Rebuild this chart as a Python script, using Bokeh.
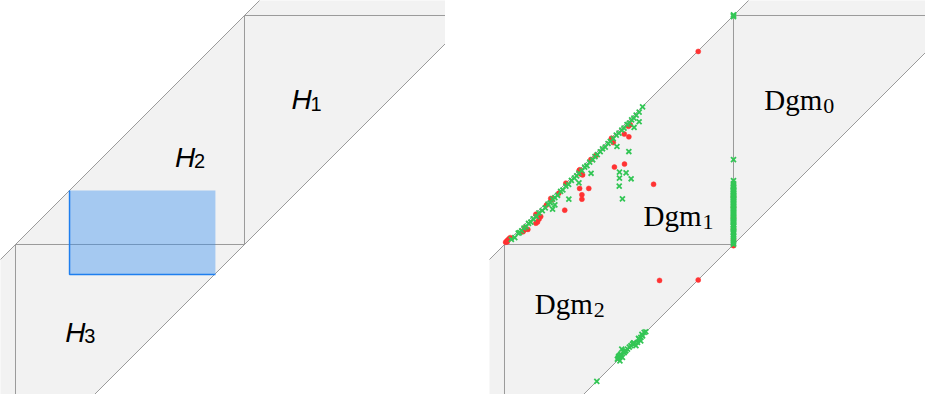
from bokeh.plotting import figure
from bokeh.layouts import row
from bokeh.models import Range1d
from bokeh.core.properties import value
from bokeh.embed import file_html
from bokeh.resources import INLINE

# ---------------- structure of the diagram (data units) ----------------
band_offset = 1.0          # band between y = x - 1 and y = x
diag_span = [-1.0, 3.0]    # extent along which the diagonals are drawn
square_lo = 0.0
square_hi = 1.0

# highlighted rectangle (left panel)
rect_left, rect_right = 0.236, 0.873
rect_bottom, rect_top = -0.131, 0.236

# ---------------- persistence points (right panel) ----------------
red_x = [0.005, 0.010, 0.015, 0.020, 0.012, 0.025,
         0.081, 0.086, 0.102, 0.090, 0.137, 0.144, 0.151, 0.158, 0.137,
         0.183, 0.202, 0.206, 0.237, 0.263, 0.268,
         0.326, 0.328, 0.333, 0.341, 0.328, 0.368, 0.338, 0.338,
         0.377, 0.399, 0.467, 0.475, 0.480, 0.524, 0.523, 0.543, 0.549, 0.541,
         0.651, 0.846,
         0.677, 0.846,
         1.0, 1.0, 1.0, 1.0, 1.0, 1.0]
red_y = [0.010, 0.015, 0.020, 0.025, 0.012, 0.030,
         0.056, 0.063, 0.066, 0.072, 0.093, 0.098, 0.111, 0.122, 0.132,
         0.172, 0.201, 0.195, 0.224, 0.150, 0.268,
         0.322, 0.326, 0.308, 0.304, 0.245, 0.245, 0.217, 0.198,
         0.371, 0.389, 0.464, 0.445, 0.338, 0.351, 0.482, 0.470, 0.523, 0.516,
         0.263, 0.843,
         -0.157, -0.155,
         -0.005, 0.022, 0.068, 0.118, 0.163, 0.209]

green_x = [0.030, 0.045, 0.060, 0.066, 0.075, 0.085, 0.095, 0.105, 0.115, 0.125,
           0.140, 0.150, 0.165, 0.178, 0.190, 0.200, 0.210, 0.220, 0.232, 0.245,
           0.255, 0.268, 0.280, 0.292, 0.305, 0.315, 0.325, 0.338, 0.350, 0.360,
           0.372, 0.385, 0.395, 0.405, 0.418, 0.428, 0.440, 0.452, 0.462, 0.475,
           0.488, 0.500, 0.512, 0.522, 0.535, 0.545, 0.555, 0.565, 0.575, 0.588,
           0.603,
           0.543, 0.502, 0.531, 0.502, 0.553, 0.501, 0.515, 0.281, 0.325, 0.210,
           0.378, 0.491, 0.588, 0.566, 0.220,
           1.0, 1.0, 1.0,
           1.0, 1.0, 1.0, 1.0, 1.0, 1.0, 1.0, 1.0, 1.0, 1.0,
           1.0, 1.0, 1.0, 1.0, 1.0, 1.0, 1.0, 1.0, 1.0, 1.0,
           1.0, 1.0, 1.0, 1.0, 1.0, 1.0, 1.0, 1.0, 1.0, 1.0,
           1.0, 1.0, 1.0, 1.0, 1.0, 1.0, 1.0, 1.0, 1.0, 1.0,
           1.0, 1.0, 1.0, 1.0, 1.0, 1.0, 1.0, 1.0, 1.0, 1.0,
           1.0, 1.0, 1.0, 1.0, 1.0, 1.0, 1.0, 1.0, 1.0, 1.0,
           0.403, 0.493, 0.501, 0.508, 0.515, 0.523, 0.530, 0.512, 0.504, 0.537,
           0.552, 0.559, 0.566, 0.574, 0.588, 0.595, 0.603, 0.610, 0.617, 0.595,
           0.581, 0.497, 0.519, 0.498, 0.506, 0.527, 0.545, 0.563, 0.585, 0.600]
green_y = [0.022, 0.030, 0.050, 0.052, 0.060, 0.072, 0.078, 0.092, 0.098, 0.112,
           0.122, 0.138, 0.148, 0.160, 0.176, 0.182, 0.198, 0.205, 0.215, 0.232,
           0.238, 0.255, 0.262, 0.280, 0.290, 0.300, 0.312, 0.322, 0.338, 0.344,
           0.360, 0.370, 0.384, 0.392, 0.405, 0.418, 0.425, 0.441, 0.450, 0.462,
           0.478, 0.486, 0.500, 0.508, 0.524, 0.530, 0.544, 0.552, 0.565, 0.578,
           0.601,
           0.406, 0.316, 0.313, 0.290, 0.287, 0.255, 0.199, 0.198, 0.269, 0.154,
           0.311, 0.428, 0.536, 0.511, 0.173,
           1.0, 0.995, 1.003,
           0.371, 0.279, 0.266, 0.258, 0.251, 0.246, 0.238, 0.231, 0.226, 0.217,
           0.211, 0.203, 0.196, 0.188, 0.183, 0.174, 0.166, 0.161, 0.153, 0.144,
           0.139, 0.131, 0.122, 0.117, 0.108, 0.101, 0.094, 0.087, 0.079, 0.073,
           0.064, 0.058, 0.049, 0.041, 0.036, 0.027, 0.019, 0.012, 0.006, 0.001,
           0.254, 0.242, 0.234, 0.222, 0.214, 0.207, 0.199, 0.192, 0.179, 0.170,
           0.157, 0.149, 0.135, 0.126, 0.113, 0.104, 0.097, 0.083, 0.069, 0.053,
           -0.598, -0.501, -0.486, -0.479, -0.493, -0.472, -0.464, -0.457, -0.508, -0.457,
           -0.442, -0.435, -0.431, -0.442, -0.413, -0.406, -0.399, -0.384, -0.381, -0.421,
           -0.428, -0.495, -0.470, -0.490, -0.482, -0.466, -0.448, -0.430, -0.410, -0.392]

# ---------------- labels ----------------
h_main = ["H", "H", "H"]
h_subs = ["1", "2", "3"]
dgm_main = ["Dgm", "Dgm", "Dgm"]
dgm_subs = ["0", "1", "2"]

# ---------------- view ----------------
PX_PER_UNIT = 229.0
X_START = -0.0655
Y_END = 1.0655
HEIGHT = 394
LEFT_W = 445
RIGHT_W = 436
Y_START = Y_END - HEIGHT / PX_PER_UNIT

FILL = "#f2f2f2"
LINE = "#9a9a9a"


def make_panel(width):
    p = figure(width=width, height=HEIGHT,
               x_range=Range1d(X_START, X_START + width / PX_PER_UNIT),
               y_range=Range1d(Y_START, Y_END),
               output_backend="svg", toolbar_location=None,
               x_axis_location=None, y_axis_location=None,
               min_border=0, outline_line_color=None,
               background_fill_color="white", border_fill_color="white")
    p.xgrid.visible = False
    p.ygrid.visible = False
    a, b = diag_span
    # gray band
    p.patch([a, b, b, a], [a, b, b - band_offset, a - band_offset],
            fill_color=FILL, line_color=None)
    # diagonals
    p.line([a, b], [a, b], line_color=LINE, line_width=1)
    p.line([a, b], [a - band_offset, b - band_offset], line_color=LINE, line_width=1)
    # square edges
    p.line([square_hi, b], [square_hi, square_hi], line_color=LINE, line_width=1)
    p.line([square_hi, square_hi], [square_lo, square_hi], line_color=LINE, line_width=1)
    p.line([square_lo, square_hi], [square_lo, square_lo], line_color=LINE, line_width=1)
    p.line([square_lo, square_lo], [a - band_offset, square_lo], line_color=LINE, line_width=1)
    return p


# ---------------- left panel ----------------
p1 = make_panel(LEFT_W)
p1.quad(left=[rect_left], right=[rect_right], bottom=[rect_bottom], top=[rect_top],
        fill_color="#328cf0", fill_alpha=0.4, line_color=None)
p1.line([rect_left, rect_left, rect_right], [rect_top, rect_bottom, rect_bottom],
        line_color="#1f7fef", line_width=1.5)
h_x = [1.205, 0.697, 0.217]
h_y = [0.632, 0.380, -0.384]
p1.text(x=h_x, y=h_y, text=h_main, text_font=value("Liberation Sans"),
        text_font_style="italic", text_font_size="28px",
        text_baseline="alphabetic", text_align="left", text_color="black")
p1.text(x=h_x, y=h_y, text=h_subs, text_font=value("Liberation Sans"),
        text_font_size="20px", x_offset=19, y_offset=4,
        text_baseline="alphabetic", text_align="left", text_color="black")

# ---------------- right panel ----------------
p2 = make_panel(RIGHT_W)
p2.scatter(red_x, red_y, marker="circle", size=5, fill_color="#ff3333",
           line_color="#ff3333", line_width=0.5)
p2.scatter(green_x, green_y, marker="x", size=7, line_color="#33c655",
           line_width=1.8)
d_x = [1.134, 0.607, 0.132]
d_y = [0.632, 0.125, -0.262]
p2.text(x=d_x, y=d_y, text=dgm_main, text_font=value("Liberation Serif"),
        text_font_size="29px",
        text_baseline="alphabetic", text_align="left", text_color="black")
p2.text(x=d_x, y=d_y, text=dgm_subs, text_font=value("Liberation Serif"),
        text_font_size="22px", x_offset=59, y_offset=6,
        text_baseline="alphabetic", text_align="left", text_color="black")

layout = row(p1, p2, spacing=44)
open("out.html", "w").write(file_html(layout, INLINE))
